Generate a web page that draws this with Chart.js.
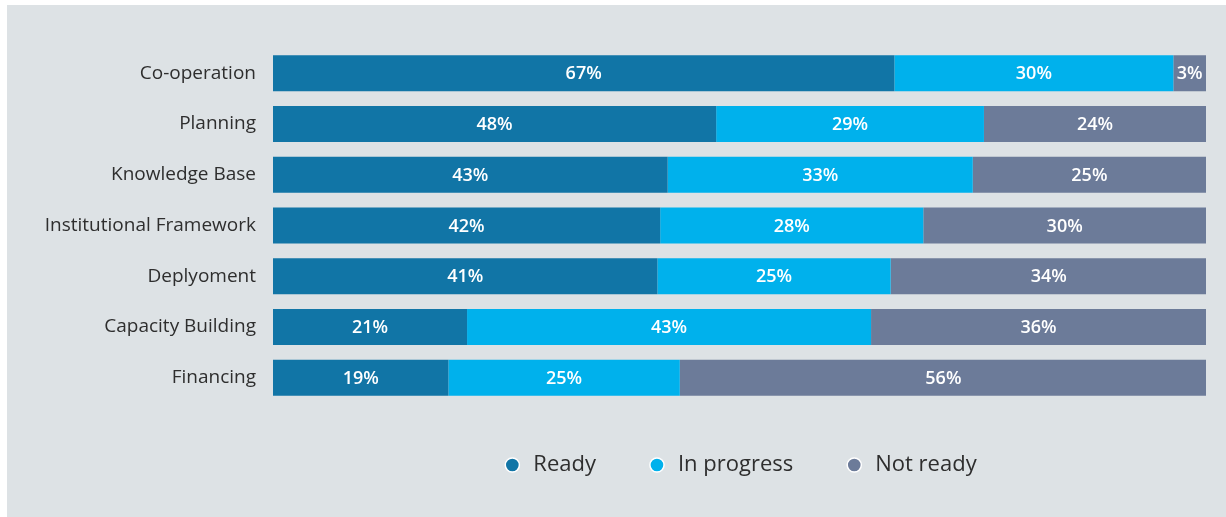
<!DOCTYPE html>
<html>
<head>
<meta charset="utf-8">
<script src="https://cdn.jsdelivr.net/npm/chart.js@4"></script>
<style>
  html, body { margin: 0; padding: 0; background: #ffffff; }
  #wrap { position: absolute; left: 7px; top: 5px; width: 1219px; height: 512px; background: #dde2e5; }
</style>
</head>
<body>
<div id="wrap"><canvas id="chart"></canvas></div>
<script>
const categories = ["Co-operation", "Planning", "Knowledge Base", "Institutional Framework", "Deplyoment", "Capacity Building", "Financing"];

// segment widths (share of the bar, %)
const ready      = [66.6, 47.5, 42.3, 41.5, 41.2, 20.8, 18.8];
const inProgress = [29.9, 28.7, 32.7, 28.2, 25.0, 43.3, 24.8];
const notReady   = [3.5, 23.8, 25.0, 30.3, 33.9, 35.9, 56.5];

// percentages printed inside the bars
const readyLabels      = [67, 48, 43, 42, 41, 21, 19];
const inProgressLabels = [30, 29, 33, 28, 25, 43, 25];
const notReadyLabels   = [3, 24, 25, 30, 34, 36, 56];

const seriesNames = ["Ready", "In progress", "Not ready"];
const colors = ["#1175a6", "#00b1ec", "#6c7b99"];

const FONT = "'Open Sans', sans-serif";
const TEXT = "#2e2e2e";

const barLabels = {
  id: "barLabels",
  afterDatasetsDraw(chart) {
    const ctx = chart.ctx;
    ctx.save();
    ctx.fillStyle = "#ffffff";
    ctx.font = "600 18px " + FONT;
    ctx.textAlign = "center";
    ctx.textBaseline = "middle";
    chart.data.datasets.forEach((ds, i) => {
      chart.getDatasetMeta(i).data.forEach((bar, j) => {
        const cx = (bar.x + bar.base) / 2;
        ctx.fillText(ds.shown[j] + "%", cx, bar.y + 1);
      });
    });
    ctx.restore();
  }
};

new Chart(document.getElementById("chart"), {
  type: "bar",
  data: {
    labels: categories,
    datasets: [
      { label: seriesNames[0], data: ready, shown: readyLabels, backgroundColor: colors[0] },
      { label: seriesNames[1], data: inProgress, shown: inProgressLabels, backgroundColor: colors[1] },
      { label: seriesNames[2], data: notReady, shown: notReadyLabels, backgroundColor: colors[2] }
    ]
  },
  options: {
    indexAxis: "y",
    responsive: true,
    maintainAspectRatio: false,
    animation: false,
    categoryPercentage: 1,
    barPercentage: 0.71,
    borderWidth: 0,
    layout: { padding: { left: 0, right: 20, top: 43, bottom: 31 } },
    scales: {
      x: { stacked: true, min: 0, max: 100, display: false },
      y: {
        stacked: true,
        grid: { display: false, drawTicks: false },
        border: { display: false },
        ticks: { color: TEXT, font: { family: FONT, size: 19 }, padding: 17 },
        afterFit(scale) { scale.width = 266; }
      }
    },
    plugins: {
      legend: {
        position: "bottom",
        fullSize: false,
        labels: {
          usePointStyle: true,
          pointStyle: "circle",
          boxWidth: 20,
          boxHeight: 10,
          padding: 51,
          color: TEXT,
          font: { family: FONT, size: 22 },
          generateLabels(chart) {
            return chart.data.datasets.map((ds, i) => ({
              text: ds.label,
              fillStyle: ds.backgroundColor,
              strokeStyle: "#ffffff",
              lineWidth: 1.5,
              pointStyle: "circle",
              fontColor: TEXT,
              datasetIndex: i
            }));
          }
        }
      },
      tooltip: { enabled: false }
    }
  },
  plugins: [barLabels]
});
</script>
</body>
</html>
